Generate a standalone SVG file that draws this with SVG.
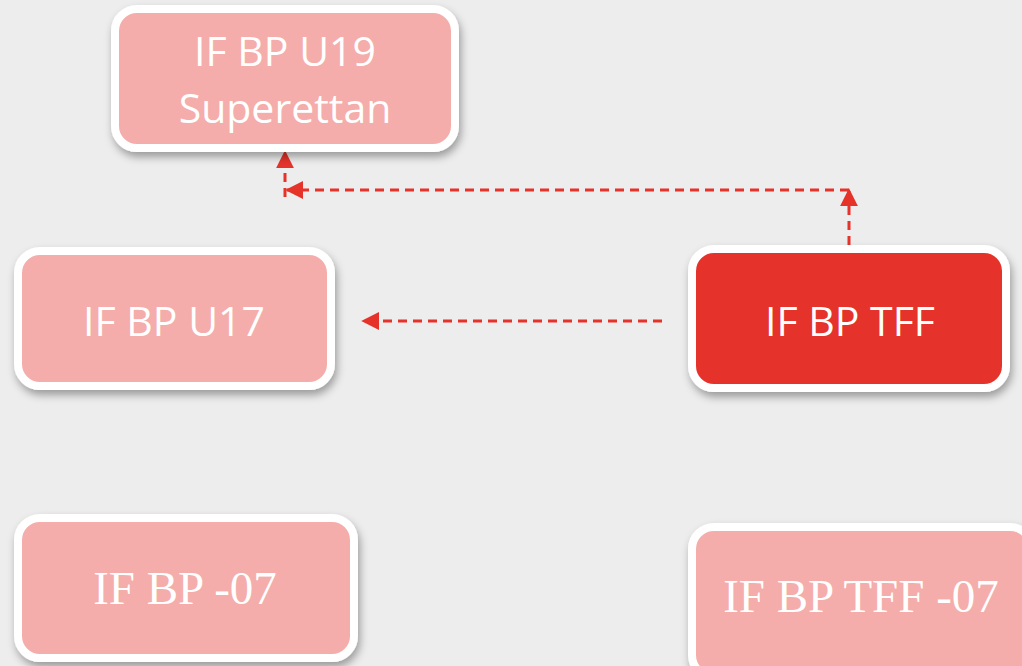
<svg xmlns="http://www.w3.org/2000/svg" width="1022" height="666" viewBox="0 0 1022 666">
<defs>
<filter id="sh" x="-20%" y="-20%" width="140%" height="150%">
<feDropShadow dx="2" dy="5" stdDeviation="4" flood-color="#000" flood-opacity="0.35"/>
</filter>
<marker id="ah" viewBox="0 0 10 10" refX="9" refY="5" markerWidth="6" markerHeight="6" markerUnits="strokeWidth" orient="auto">
<path d="M0,0 L10,5 L0,10 z" fill="#E5332A"/>
</marker>
<style>
.box{stroke:#fff;stroke-width:8;filter:url(#sh)}
.pink{fill:#F4ADAA}
.red{fill:#E5332A}
.sans{font-family:"Open Sans","DejaVu Sans",sans-serif;fill:#fff;text-anchor:middle}
.serif{font-family:"Liberation Serif","DejaVu Serif",serif;fill:#fff;text-anchor:middle}
.con{stroke:#E5332A;stroke-width:3;stroke-dasharray:9 6;fill:none}
</style>
</defs>
<rect width="1022" height="666" fill="#EDEDED"/>
<g id="connectors">
<line class="con" x1="849" y1="245" x2="849" y2="190" marker-end="url(#ah)"/>
<line class="con" x1="849" y1="190" x2="287" y2="190" marker-end="url(#ah)"/>
<line class="con" x1="285" y1="197" x2="285" y2="152" marker-end="url(#ah)"/>
<line class="con" x1="662" y1="321" x2="363" y2="321" marker-end="url(#ah)"/>
</g>
<g id="u19">
<rect class="box pink" x="115" y="9" width="340" height="139" rx="22"/>
<text class="sans" x="285" y="66" font-size="41">IF BP U19</text>
<text class="sans" x="285" y="123" font-size="41">Superettan</text>
</g>
<g id="u17">
<rect class="box pink" x="18" y="251" width="313" height="135" rx="22"/>
<text class="sans" x="174" y="336" font-size="41">IF BP U17</text>
</g>
<g id="tff">
<rect class="box red" x="692" y="249" width="314" height="139" rx="22"/>
<text class="sans" x="850" y="336" font-size="41">IF BP TFF</text>
</g>
<g id="bp07">
<rect class="box pink" x="18" y="518" width="336" height="140" rx="22"/>
<text class="serif" x="185" y="604" font-size="47">IF BP -07</text>
</g>
<g id="tff07">
<rect class="box pink" x="692" y="527" width="340" height="150" rx="22"/>
<text class="serif" x="861" y="612" font-size="47">IF BP TFF -07</text>
</g>
</svg>
